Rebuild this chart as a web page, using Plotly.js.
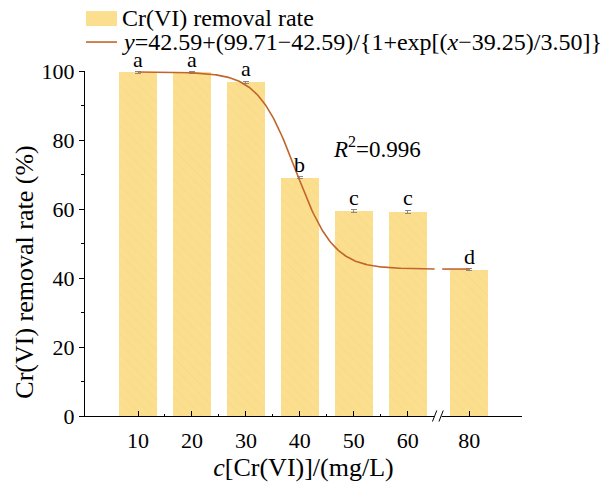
<!DOCTYPE html>
<html>
<head>
<meta charset="utf-8">
<script src="https://cdn.plot.ly/plotly-3.0.1.min.js"></script>
<style>html,body{margin:0;padding:0;background:#fff;}#chart{width:609px;height:486px;}</style>
</head>
<body>
<div id="chart"></div>
<script>
// ---- data ----
const concentrations = [10, 20, 30, 40, 50, 60, 80];
const removalRate = [99.6, 99.6, 96.7, 69.1, 59.4, 59.2, 42.4];
const removalErr = [0.2, 0.2, 0.3, 0.3, 0.4, 0.4, 0.3];
const groupLetters = ['a', 'a', 'a', 'b', 'c', 'c', 'd'];
const tickLabels = ['10', '20', '30', '40', '50', '60', '80'];
const minorTicks = [15, 25, 35, 45, 55];
// Boltzmann fit parameters shown in legend
const fitA2 = 42.59, fitA1 = 99.71, fitX0 = 39.25, fitDx = 3.50;
const fitRangeA = [10, 65];
const fitRangeB = [75, 80];

// ---- axis break mapping ----
const BREAK_LO = 65, BREAK_HI = 75, BREAK_GAP = 1.4;
function xmap(c) { return c <= BREAK_LO ? c : c - (BREAK_HI - BREAK_LO) + BREAK_GAP; }

function fit(x) { return fitA2 + (fitA1 - fitA2) / (1 + Math.exp((x - fitX0) / fitDx)); }
const curveX = [], curveY = [];
for (let x = fitRangeA[0]; x <= fitRangeA[1] + 1e-9; x += 0.25) { curveX.push(xmap(x)); curveY.push(fit(x)); }
curveX.push(null); curveY.push(null);
for (let x = fitRangeB[0]; x <= fitRangeB[1] + 1e-9; x += 0.25) { curveX.push(xmap(x)); curveY.push(fit(x)); }

const FONT = 'Liberation Serif, Times New Roman, serif';
const BAR_COLOR = '#FBDF8E';
const CURVE_COLOR = '#C0652B';
const barX = concentrations.map(xmap);

const traces = [
  {
    type: 'bar', x: barX, y: removalRate, width: 7.05,
    marker: { color: BAR_COLOR, line: { width: 0 },
      pattern: { shape: '\\', fillmode: 'overlay', bgcolor: BAR_COLOR, fgcolor: '#EDCF80', fgopacity: 0.5, size: 7, solidity: 0.12 } },
    error_y: { type: 'data', array: removalErr, visible: true, color: '#8a8a8a', thickness: 1, width: 3 },
    showlegend: false, hoverinfo: 'skip'
  },
  {
    type: 'scatter', mode: 'lines', x: curveX, y: curveY, connectgaps: false,
    line: { color: CURVE_COLOR, width: 1.6 }, showlegend: false, hoverinfo: 'skip'
  }
];

// paper conversion helpers for the custom legend
const L = 85, R = 87.3, T = 71, B = 69.5, W = 609, H = 486;
const pw = W - L - R, ph = H - T - B;
const px = v => (v - L) / pw;
const py = v => (H - B - v) / ph;

const annotations = concentrations.map((c, i) => ({
  x: xmap(c), y: removalRate[i] + removalErr[i], xref: 'x', yref: 'y',
  text: groupLetters[i], showarrow: false, yanchor: 'bottom', xanchor: 'center',
  font: { family: FONT, size: 22, color: '#000' }, yshift: -2
}));
annotations.push({
  x: 54.3, y: 77.7, xref: 'x', yref: 'y', text: '<i>R</i><sup>2</sup>=0.996', showarrow: false,
  font: { family: FONT, size: 23, color: '#000' }
});
annotations.push({
  x: px(120), y: py(18), xref: 'paper', yref: 'paper', xanchor: 'left', yanchor: 'middle',
  text: 'Cr(VI) removal rate', showarrow: false, font: { family: FONT, size: 24, color: '#000' }
});
annotations.push({
  x: px(120), y: py(42), xref: 'paper', yref: 'paper', xanchor: 'left', yanchor: 'middle',
  text: '<i>y</i>=42.59+(99.71\u221242.59)/{1+exp[(<i>x</i>\u221239.25)/3.50]}', showarrow: false,
  font: { family: FONT, size: 24, color: '#000' }
});
// y-axis title
annotations.push({
  x: px(25), y: py(272), xref: 'paper', yref: 'paper', xanchor: 'center', yanchor: 'middle',
  text: 'Cr(VI) removal rate (%)', textangle: -90, showarrow: false,
  font: { family: FONT, size: 26, color: '#000' }
});

const brk = xmap(BREAK_LO) + 0.6;
const shapes = [
  { type: 'rect', xref: 'paper', yref: 'paper', x0: px(86), x1: px(117), y0: py(26), y1: py(11),
    fillcolor: BAR_COLOR, line: { width: 0 } },
  { type: 'line', xref: 'paper', yref: 'paper', x0: px(86), x1: px(117), y0: py(42), y1: py(42),
    line: { color: CURVE_COLOR, width: 1.6 } },
  { type: 'rect', xref: 'x', yref: 'paper', x0: brk - 0.7, x1: brk + 0.7, y0: -0.01, y1: 0.01,
    fillcolor: '#fff', line: { width: 0 }, layer: 'above' },
  { type: 'line', xref: 'x', yref: 'paper', x0: brk - 1.0, x1: brk - 0.2, y0: -0.016, y1: 0.016,
    line: { color: '#000', width: 1 }, layer: 'above' },
  { type: 'line', xref: 'x', yref: 'paper', x0: brk + 0.2, x1: brk + 1.0, y0: -0.016, y1: 0.016,
    line: { color: '#000', width: 1 }, layer: 'above' }
];

const layout = {
  width: W, height: H,
  margin: { l: L, r: R, t: T, b: B },
  paper_bgcolor: '#fff', plot_bgcolor: '#fff',
  font: { family: FONT, color: '#000' },
  showlegend: false,
  bargap: 0,
  xaxis: {
    range: [0.17, 81.2], showgrid: false, zeroline: false,
    showline: true, linecolor: '#000', linewidth: 1,
    tickmode: 'array', tickvals: barX, ticktext: tickLabels,
    ticks: 'inside', ticklen: 5, tickcolor: '#000', tickwidth: 1,
    minor: { tickmode: 'array', tickvals: minorTicks, ticks: 'inside', ticklen: 2, tickcolor: '#000' },
    tickfont: { family: FONT, size: 22, color: '#000' },
    ticklabelstandoff: 5,
    title: { text: '<i>c</i>[Cr(VI)]/(mg/L)', font: { family: FONT, size: 26, color: '#000' }, standoff: 2 }
  },
  yaxis: {
    range: [0, 100], showgrid: false, zeroline: false,
    showline: true, linecolor: '#000', linewidth: 1,
    tickmode: 'array', tickvals: [0, 20, 40, 60, 80, 100],
    ticks: 'outside', ticklen: 5, tickcolor: '#000', tickwidth: 1,
    minor: { tickmode: 'array', tickvals: [10, 30, 50, 70, 90], ticks: 'outside', ticklen: 3, tickcolor: '#000' },
    tickfont: { family: FONT, size: 22, color: '#000' }
  },
  annotations: annotations,
  shapes: shapes
};

Plotly.newPlot('chart', traces, layout, { staticPlot: true, displayModeBar: false });
</script>
</body>
</html>
